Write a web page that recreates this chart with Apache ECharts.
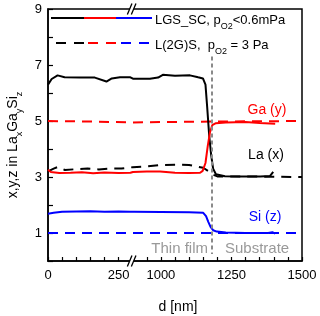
<!DOCTYPE html>
<html><head><meta charset="utf-8">
<script src="https://cdn.jsdelivr.net/npm/echarts@6/dist/echarts.min.js"></script>
<style>html,body{margin:0;padding:0;background:#fff}#c{width:320px;height:316px}</style>
</head><body><div id="c"></div>
<script>
// ---- data (d in nm, value) ----
const laSC = [[0,6.30],[13,6.50],[34,6.63],[59,6.56],[113,6.55],[166,6.55],[207,6.41],[226,6.52],[255,6.56],[292,6.56],[901,6.51],[961,6.51],[990,6.55],[1007,6.65],[1050,6.62],[1103,6.63],[1132,6.56],[1149,6.52],[1158,6.3],[1164,5.5],[1171,4.5],[1178,3.8],[1185,3.3],[1195,3.1],[1227,3.03],[1281,3.02],[1352,3.02],[1387,3.04],[1398,3.18]];
const gaSC = [[0,3.26],[10,3.18],[40,3.14],[80,3.15],[120,3.17],[160,3.13],[200,3.16],[250,3.14],[292,3.15],[901,3.18],[950,3.2],[997,3.2],[1050,3.15],[1100,3.14],[1139,3.15],[1148,3.22],[1158,3.5],[1166,4.1],[1174,4.6],[1182,4.85],[1195,4.92],[1230,4.95],[1300,4.96],[1350,4.93],[1405,4.9]];
const siSC = [[0,1.69],[20,1.72],[50,1.76],[100,1.77],[150,1.78],[200,1.76],[250,1.77],[292,1.76],[905,1.76],[1000,1.75],[1100,1.74],[1150,1.72],[1160,1.6],[1168,1.4],[1176,1.22],[1185,1.1],[1198,1.05],[1230,1.02],[1300,1.0],[1380,1.0],[1395,1.03],[1405,0.98]];
const laRef = [[0,3.2],[20,3.3],[35,3.36],[60,3.25],[100,3.28],[140,3.3],[180,3.27],[220,3.3],[260,3.3],[300,3.35],[900,3.4],[950,3.38],[1000,3.43],[1050,3.44],[1100,3.43],[1150,3.33],[1170,3.2],[1185,3.08],[1200,3.02],[1300,3.02],[1500,3.0]];
const gaRef = [[0,5.0],[150,4.98],[300,4.95],[900,4.97],[1180,4.98],[1500,5.0]];
const siRef = [[0,1.0],[300,1.0],[900,1.0],[1500,1.0]];
const xTickLabels = [0,250,1000,1250,1500];
const yTickLabels = [1,3,5,7,9];
const interfaceD = 1180;
const breakStart = 300, breakEnd = 900;

// broken axis transform
const toAxis = d => d <= breakStart ? d : d - (breakEnd - breakStart);
const fromAxis = t => t <= breakStart ? t : t + (breakEnd - breakStart);
const conv = arr => arr.map(p => [toAxis(p[0]), p[1]]);

const font = 'Liberation Sans, Arial, sans-serif';
const chart = echarts.init(document.getElementById('c'), null, {renderer:'canvas'});

function line(data, color, dashed) {
  return {
    type:'line', data: conv(data), showSymbol:false, silent:true, animation:false,
    lineStyle:{color, width:2, type: dashed ? [10,7] : 'solid'}, z: dashed ? 2 : 3
  };
}

const series = [
  line(laRef,'#000',true), line(gaRef,'#ff0000',true), line(siRef,'#0000ff',true),
  line(laSC,'#000',false), line(gaSC,'#ff0000',false), line(siSC,'#0000ff',false)
];
series[0].markLine = {
  silent:true, symbol:'none', label:{show:false},
  lineStyle:{color:'#8a8a8a', width:2, type:[4,3]},
  data:[[{coord:[toAxis(interfaceD),7.3]},{coord:[toAxis(interfaceD),0.25]}]]
};

chart.setOption({
  animation:false,
  grid:{left:48, top:9, right:18, bottom:55, show:true, borderColor:'#000', borderWidth:1.5},
  xAxis:{
    type:'value', min:0, max:toAxis(1500), interval:50,
    axisLine:{lineStyle:{color:'#000', width:1.5}},
    axisTick:{inside:true, length:4, lineStyle:{color:'#000', width:1.2}},
    splitLine:{show:false},
    axisLabel:{color:'#000', fontFamily:font, fontSize:13, margin:8,
      formatter: v => { const d = Math.round(fromAxis(v)); return (xTickLabels.includes(d) && !(v===breakStart)) ? String(d) : ''; }}
  },
  yAxis:{
    type:'value', min:0, max:9, interval:1,
    axisLine:{lineStyle:{color:'#000', width:1.5}},
    axisTick:{inside:true, length:5, lineStyle:{color:'#000', width:1.2}},
    splitLine:{show:false},
    axisLabel:{color:'#000', fontFamily:font, fontSize:13, margin:6,
      formatter: v => yTickLabels.includes(v) ? String(v) : ''}
  },
  series
});

// decorations
const bx = chart.convertToPixel({gridIndex:0},[breakStart,0])[0] - 1;
const yTop = chart.convertToPixel({gridIndex:0},[0,9])[1];
const yBot = chart.convertToPixel({gridIndex:0},[0,0])[1];
function breakMark(cx, y){
  const h = 5.5, s = 2.3, w = 2;
  return [
    {type:'polygon', shape:{points:[[cx-s-w,y+h],[cx+s-w,y-h],[cx+s+w,y-h],[cx-s+w,y+h]]}, style:{fill:'#fff'}, z:100},
    {type:'line', shape:{x1:cx-s-w, y1:y+h, x2:cx+s-w, y2:y-h}, style:{stroke:'#000', lineWidth:1.3}, z:101},
    {type:'line', shape:{x1:cx-s+w, y1:y+h, x2:cx+s+w, y2:y-h}, style:{stroke:'#000', lineWidth:1.3}, z:101}
  ];
}
const rich = {
  a:{fontFamily:font, fontSize:13, color:'#000', lineHeight:16},
  s:{fontFamily:font, fontSize:9, color:'#000', lineHeight:9, verticalAlign:'top', padding:[10,0,0,0]}
};
const ly1 = 18, ly2 = 43;
const graphic = [
  ...breakMark(bx, yTop), ...breakMark(bx, yBot),
  {type:'line', shape:{x1:51, y1:ly1, x2:84, y2:ly1}, style:{stroke:'#000', lineWidth:2}},
  {type:'line', shape:{x1:84, y1:ly1, x2:116, y2:ly1}, style:{stroke:'#ff0000', lineWidth:2}},
  {type:'line', shape:{x1:116, y1:ly1, x2:152, y2:ly1}, style:{stroke:'#0000ff', lineWidth:2}},
  {type:'line', shape:{x1:56, y1:ly2, x2:86, y2:ly2}, style:{stroke:'#000', lineWidth:2, lineDash:[10,8]}},
  {type:'line', shape:{x1:88, y1:ly2, x2:118, y2:ly2}, style:{stroke:'#ff0000', lineWidth:2, lineDash:[10,8]}},
  {type:'line', shape:{x1:121, y1:ly2, x2:151, y2:ly2}, style:{stroke:'#0000ff', lineWidth:2, lineDash:[10,8]}},
  {type:'text', x:155, y:ly1+2, style:{text:'{a|LGS_SC, p}{s|O2}{a|<0.6mPa}', rich, verticalAlign:'middle'}},
  {type:'text', x:155, y:ly2+2, style:{text:'{a|L(2G)S,  p}{s|O2}{a| = 3 Pa}', rich, verticalAlign:'middle'}},
  {type:'text', x:267, y:110, style:{text:'Ga (y)', fill:'#ff0000', font:'14px '+font, align:'center', verticalAlign:'middle'}},
  {type:'text', x:266, y:155, style:{text:'La (x)', fill:'#000', font:'14px '+font, align:'center', verticalAlign:'middle'}},
  {type:'text', x:265, y:217, style:{text:'Si (z)', fill:'#0000ff', font:'14px '+font, align:'center', verticalAlign:'middle'}},
  {type:'text', x:208, y:249, style:{text:'Thin film', fill:'#999', font:'15px '+font, align:'right', verticalAlign:'middle'}},
  {type:'text', x:225, y:249, style:{text:'Substrate', fill:'#999', font:'15px '+font, align:'left', verticalAlign:'middle'}},
  {type:'text', x:178, y:307, style:{text:'d [nm]', fill:'#000', font:'14px '+font, align:'center', verticalAlign:'middle'}},
  {type:'text', x:13, y:145, rotation:Math.PI/2,
    style:{text:'{a|x,y,z in La}{s|x}{a|Ga}{s|y}{a|Si}{s|z}', rich:{
      a:{fontFamily:font, fontSize:14, color:'#000', lineHeight:16},
      s:{fontFamily:font, fontSize:9, color:'#000', lineHeight:9, verticalAlign:'top', padding:[10,0,0,0]}
    }, align:'center', verticalAlign:'middle'}}
];
chart.setOption({graphic});
</script>
</body></html>
